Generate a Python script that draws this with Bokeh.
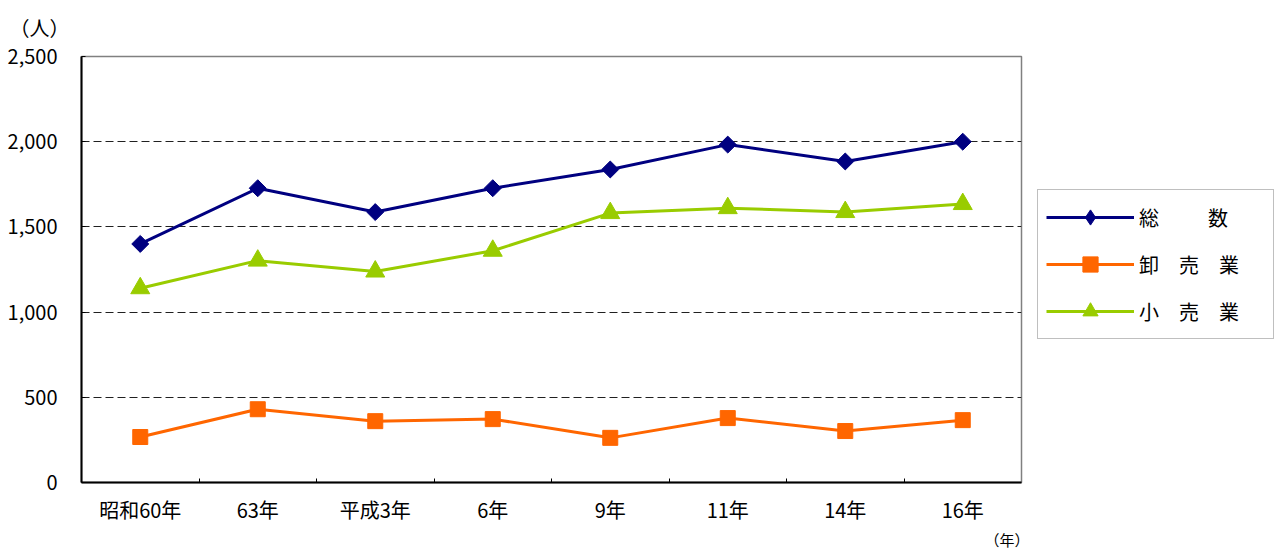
from bokeh.plotting import figure
from bokeh.layouts import row
from bokeh.models import (Range1d, FixedTicker, NumeralTickFormatter, Legend, LegendItem,
                          ColumnDataSource, Title)
from bokeh.embed import file_html
from bokeh.resources import INLINE
import math

categories = ["昭和60年", "63年", "平成3年", "6年", "9年", "11年", "14年", "16年"]
total = [1400, 1727, 1587, 1727, 1837, 1983, 1884, 2000]
wholesale = [267, 430, 360, 372, 262, 378, 302, 366]
retail = [1140, 1302, 1238, 1360, 1581, 1610, 1587, 1634]
y_ticks = [0, 500, 1000, 1500, 2000, 2500]
labels = ["総　　  数", "卸　売　業", "小　売　業"]
y_unit = "（人）"
x_unit = "（年）"

FONT = "Noto Sans CJK JP"
C_TOTAL, C_WHOLE, C_RETAIL = "#000080", "#FF6600", "#99CC00"

x = [i + 0.5 for i in range(len(categories))]
src = ColumnDataSource(dict(x=x, total=total, wholesale=wholesale, retail=retail))

p = figure(width=1029, height=549, output_backend="svg", toolbar_location=None,
           x_range=Range1d(0, len(categories)), y_range=Range1d(0, 2500),
           min_border_left=81, min_border_top=55, min_border_bottom=66, min_border_right=8)

p.outline_line_color = "#808080"
p.outline_line_width = 1.5
p.background_fill_color = "white"
p.border_fill_color = "white"

# title used as the unit label "(人)"
p.title.text = y_unit
p.title.align = "left"
p.title.vertical_align = "top"
p.title.offset = -72
p.title.standoff = 25
p.title.text_font = FONT
p.title.text_font_size = "20px"
p.title.text_font_style = "normal"
p.title.text_color = "black"

# x axis
p.xaxis.ticker = FixedTicker(ticks=x, minor_ticks=list(range(1, len(categories))))
p.xaxis.major_label_overrides = {xx: c for xx, c in zip(x, categories)}
p.xaxis.major_tick_line_color = None
p.xaxis.major_tick_out = 0
p.xaxis.major_tick_in = 0
p.xaxis.minor_tick_in = 4
p.xaxis.minor_tick_out = 0
p.xaxis.minor_tick_line_color = "black"
p.xaxis.axis_line_color = "black"
p.xaxis.axis_line_width = 2
p.xaxis.major_label_text_font = FONT
p.xaxis.major_label_text_font_size = "20px"
p.xaxis.major_label_text_color = "black"
p.xaxis.major_label_standoff = 12

# unit label "(年)" below the axis, right aligned
p.add_layout(Title(text=x_unit, align="right", offset=-8, standoff=0, text_font=FONT,
                   text_font_size="15px", text_font_style="normal", text_color="black"),
             "below")

# y axis
p.yaxis.ticker = FixedTicker(ticks=y_ticks)
p.yaxis.formatter = NumeralTickFormatter(format="0,0")
p.yaxis.major_tick_in = 4
p.yaxis.major_tick_out = 0
p.yaxis.major_tick_line_color = "black"
p.yaxis.minor_tick_line_color = None
p.yaxis.axis_line_color = "black"
p.yaxis.axis_line_width = 2
p.yaxis.major_label_text_font = FONT
p.yaxis.major_label_text_font_size = "20px"
p.yaxis.major_label_text_color = "black"
p.yaxis.major_label_standoff = 24

p.xgrid.grid_line_color = None
p.ygrid.ticker = FixedTicker(ticks=y_ticks[1:])
p.ygrid.grid_line_color = "#202020"
p.ygrid.grid_line_width = 1
p.ygrid.grid_line_dash = "8 4"

# series
p.line("x", "total", source=src, line_color=C_TOTAL, line_width=3)
p.scatter("x", "total", source=src, marker="square", angle=math.pi / 4, size=12,
          fill_color=C_TOTAL, line_color=C_TOTAL)
p.line("x", "wholesale", source=src, line_color=C_WHOLE, line_width=3)
p.scatter("x", "wholesale", source=src, marker="square", size=15,
          fill_color=C_WHOLE, line_color=C_WHOLE)
p.line("x", "retail", source=src, line_color=C_RETAIL, line_width=3)
p.scatter("x", "retail", source=src, marker="triangle", size=19,
          fill_color=C_RETAIL, line_color=C_RETAIL)

# legend panel (separate figure to the right; swatches via hidden proxy renderers)
lf = figure(width=251, height=549, output_backend="svg", toolbar_location=None,
            x_range=p.x_range, y_range=p.y_range, x_axis_type=None, y_axis_type=None,
            min_border=0)
lf.outline_line_color = None
lf.grid.visible = False
lf.background_fill_color = "white"
lf.border_fill_color = "white"

g1 = lf.line("x", "total", source=src, line_color=C_TOTAL, line_width=3, visible=False)
s1 = lf.scatter("x", "total", source=src, marker="diamond", size=19,
                fill_color=C_TOTAL, line_color=C_TOTAL, visible=False)
g2 = lf.line("x", "wholesale", source=src, line_color=C_WHOLE, line_width=3, visible=False)
s2 = lf.scatter("x", "wholesale", source=src, marker="square", size=15,
                fill_color=C_WHOLE, line_color=C_WHOLE, visible=False)
g3 = lf.line("x", "retail", source=src, line_color=C_RETAIL, line_width=3, visible=False)
s3 = lf.scatter("x", "retail", source=src, marker="triangle", size=19,
                fill_color=C_RETAIL, line_color=C_RETAIL, visible=False)

legend = Legend(items=[LegendItem(label=labels[0], renderers=[g1, s1]),
                       LegendItem(label=labels[1], renderers=[g2, s2]),
                       LegendItem(label=labels[2], renderers=[g3, s3])],
                location=(8, 143), margin=0, padding=8, spacing=9,
                glyph_width=88, glyph_height=38, label_height=38, label_width=126,
                label_standoff=5, label_text_font=FONT, label_text_font_size="20px",
                label_text_color="black",
                border_line_color="#808080", border_line_width=1.5,
                background_fill_color="white", background_fill_alpha=1.0)
lf.add_layout(legend)

layout = row(p, lf, spacing=0)
open("out.html", "w").write(file_html(layout, INLINE))
